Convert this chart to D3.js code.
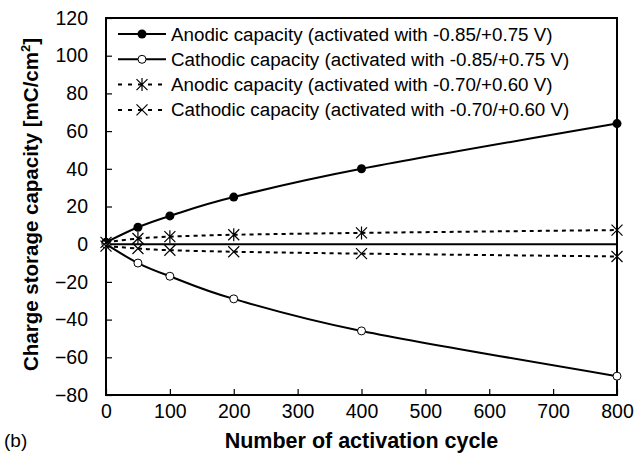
<!DOCTYPE html>
<html>
<head>
<meta charset="utf-8">
<script src="https://cdn.jsdelivr.net/npm/d3@7"></script>
<style>
  body { margin: 0; background: #fff; }
  text { font-family: "Liberation Sans", Arial, sans-serif; fill: #000; }
</style>
</head>
<body>
<div id="chart"></div>
<script>
// Datos
const cycles = [0, 50, 100, 200, 400, 800];
const anodic085 = [1, 9, 15, 25, 40, 64];
const cathodic085 = [0, -10, -17, -29, -46, -70];
const anodic070 = [1, 3, 4, 5, 6, 7.5];
const cathodic070 = [-1, -2.3, -3.2, -4, -5, -6.5];
const xTicks = [0, 100, 200, 300, 400, 500, 600, 700, 800];
const yTicks = [-80, -60, -40, -20, 0, 20, 40, 60, 80, 100, 120];

const series = [
  { name: "Anodic capacity (activated with -0.85/+0.75 V)", values: anodic085, marker: "dot", dashed: false },
  { name: "Cathodic capacity (activated with -0.85/+0.75 V)", values: cathodic085, marker: "circle", dashed: false },
  { name: "Anodic capacity (activated with -0.70/+0.60 V)", values: anodic070, marker: "star", dashed: true },
  { name: "Cathodic capacity (activated with -0.70/+0.60 V)", values: cathodic070, marker: "cross", dashed: true }
];

const width = 637, height = 462;
const margin = { left: 106, right: 20, top: 18, bottom: 67 };

const svg = d3.select("#chart").append("svg")
  .attr("width", width)
  .attr("height", height);

const x = d3.scaleLinear().domain([0, 800]).range([margin.left, width - margin.right]);
const y = d3.scaleLinear().domain([-80, 120]).range([height - margin.bottom, margin.top]);

// Ejes con marcas hacia dentro
svg.append("g")
  .attr("transform", `translate(0,${y(-80)})`)
  .call(d3.axisBottom(x).tickValues(xTicks).tickSizeInner(-6).tickSizeOuter(0).tickPadding(9))
  .call(g => g.select(".domain").remove())
  .call(g => g.selectAll("line").attr("stroke-width", 1.2))
  .call(g => g.selectAll("text").attr("font-size", 19.5));

svg.append("g")
  .attr("transform", `translate(${x(0)},0)`)
  .call(d3.axisLeft(y).tickValues(yTicks).tickSizeInner(-6).tickSizeOuter(0).tickPadding(18))
  .call(g => g.select(".domain").remove())
  .call(g => g.selectAll("line").attr("stroke-width", 1.2))
  .call(g => g.selectAll("text").attr("font-size", 19.5));

// Marco del área de trazado
svg.append("rect")
  .attr("x", x(0)).attr("y", y(120))
  .attr("width", x(800) - x(0)).attr("height", y(-80) - y(120))
  .attr("fill", "none").attr("stroke", "#000").attr("stroke-width", 2);

// Línea del cero
svg.append("line")
  .attr("x1", x(0)).attr("x2", x(800))
  .attr("y1", y(0)).attr("y2", y(0))
  .attr("stroke", "#000").attr("stroke-width", 2);

const line = d3.line()
  .x((d, i) => x(cycles[i]))
  .y(d => y(d))
  .curve(d3.curveCardinal.tension(0));

function drawMarker(g, type, cx, cy) {
  if (type === "dot") {
    g.append("circle").attr("cx", cx).attr("cy", cy).attr("r", 4.5).attr("fill", "#000");
  } else if (type === "circle") {
    g.append("circle").attr("cx", cx).attr("cy", cy).attr("r", 4)
      .attr("fill", "#fff").attr("stroke", "#000").attr("stroke-width", 1);
  } else {
    const s = 5.5;
    const p = d3.path();
    p.moveTo(cx - s, cy - s); p.lineTo(cx + s, cy + s);
    p.moveTo(cx - s, cy + s); p.lineTo(cx + s, cy - s);
    if (type === "star") { p.moveTo(cx, cy - s - 1); p.lineTo(cx, cy + s + 1); }
    g.append("path").attr("d", p.toString()).attr("fill", "none")
      .attr("stroke", "#000").attr("stroke-width", 1.2);
  }
}

series.forEach(s => {
  svg.append("path")
    .datum(s.values)
    .attr("d", line)
    .attr("fill", "none")
    .attr("stroke", "#000")
    .attr("stroke-width", 2)
    .attr("stroke-dasharray", s.dashed ? "4,4" : null);
  const g = svg.append("g");
  s.values.forEach((v, i) => drawMarker(g, s.marker, x(cycles[i]), y(v)));
});

// Leyenda
const legend = svg.append("g");
series.forEach((s, i) => {
  const ly = 34 + i * 25.3;
  legend.append("line")
    .attr("x1", 118).attr("x2", 166).attr("y1", ly).attr("y2", ly)
    .attr("stroke", "#000").attr("stroke-width", 2)
    .attr("stroke-dasharray", s.dashed ? "4,6" : null);
  drawMarker(legend, s.marker, 142, ly);
  legend.append("text")
    .attr("x", 171).attr("y", ly).attr("dy", "0.35em")
    .attr("font-size", 18.8)
    .text(s.name);
});

// Títulos
svg.append("text")
  .attr("x", x(400)).attr("y", 448)
  .attr("text-anchor", "middle")
  .attr("font-size", 21.5).attr("font-weight", "bold")
  .text("Number of activation cycle");

const yTitle = svg.append("text")
  .attr("transform", `translate(38,${y(20) - 2}) rotate(-90)`)
  .attr("text-anchor", "middle")
  .attr("font-size", 20.5).attr("font-weight", "bold");
yTitle.append("tspan").text("Charge storage capacity [mC/cm");
yTitle.append("tspan").attr("dy", -8).attr("font-size", 13).text("2");
yTitle.append("tspan").attr("dy", 8).text("]");

svg.append("text")
  .attr("x", 4).attr("y", 447)
  .attr("font-size", 19)
  .text("(b)");
</script>
</body>
</html>
